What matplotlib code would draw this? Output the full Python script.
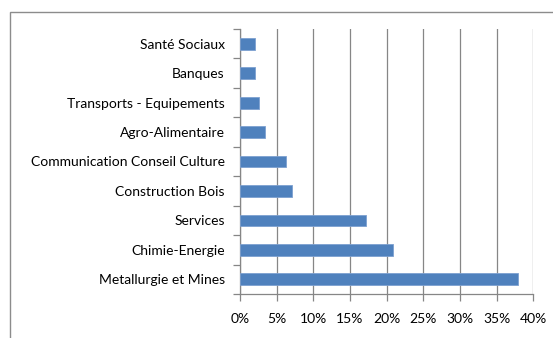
import matplotlib.pyplot as plt
from matplotlib.patches import Rectangle
from matplotlib.ticker import FixedLocator, PercentFormatter

categories = ["Metallurgie et Mines", "Chimie-Energie", "Services", "Construction Bois",
              "Communication Conseil Culture", "Agro-Alimentaire",
              "Transports - Equipements", "Banques", "Santé Sociaux"]
values = [37.9, 20.8, 17.2, 7.05, 6.27, 3.45, 2.6, 2.05, 2.05]
x_ticks = [0, 5, 10, 15, 20, 25, 30, 35, 40]

plt.rcParams['font.family'] = ['Lato', 'DejaVu Sans']

W, H = 553, 338
fig = plt.figure(figsize=(W / 100, H / 100), dpi=100)
fig.patch.set_facecolor('white')

# chart frame
fig.patches.append(Rectangle((10 / W, -0.1), 1.2, 1 - 12 / H + 0.1, transform=fig.transFigure,
                             fill=False, edgecolor='#8c8c8c', linewidth=1.0))

ax = fig.add_axes([240 / W, 1 - 294 / H, (533.3 - 240) / W, (294 - 29) / H])
pos = list(range(len(categories)))
ax.barh(pos, values, height=0.4, color='#4F81BD', edgecolor='#7da0d0', linewidth=0.6, zorder=3)

ax.set_xlim(0, 40)
ax.set_ylim(-0.5, len(categories) - 0.5)
ax.set_xticks(x_ticks)
ax.xaxis.set_major_formatter(PercentFormatter(decimals=0))
ax.set_yticks(pos)
ax.set_yticklabels(categories)
ax.yaxis.set_minor_locator(FixedLocator([p - 0.5 for p in range(len(categories) + 1)]))

ax.grid(axis='x', color='#868686', linewidth=0.9, zorder=0)
for s in ['top', 'right']:
    ax.spines[s].set_visible(False)
for s in ['left', 'bottom']:
    ax.spines[s].set_color('#868686')
    ax.spines[s].set_linewidth(0.9)

ax.tick_params(axis='y', which='major', length=0, pad=11, labelsize=10, labelcolor='#000000')
ax.tick_params(axis='y', which='minor', length=5, color='#868686', width=0.9)
ax.tick_params(axis='x', which='major', length=5, color='#868686', width=0.9, pad=9,
               labelsize=10, labelcolor='#000000')

fig.savefig('out.png', dpi=100)
